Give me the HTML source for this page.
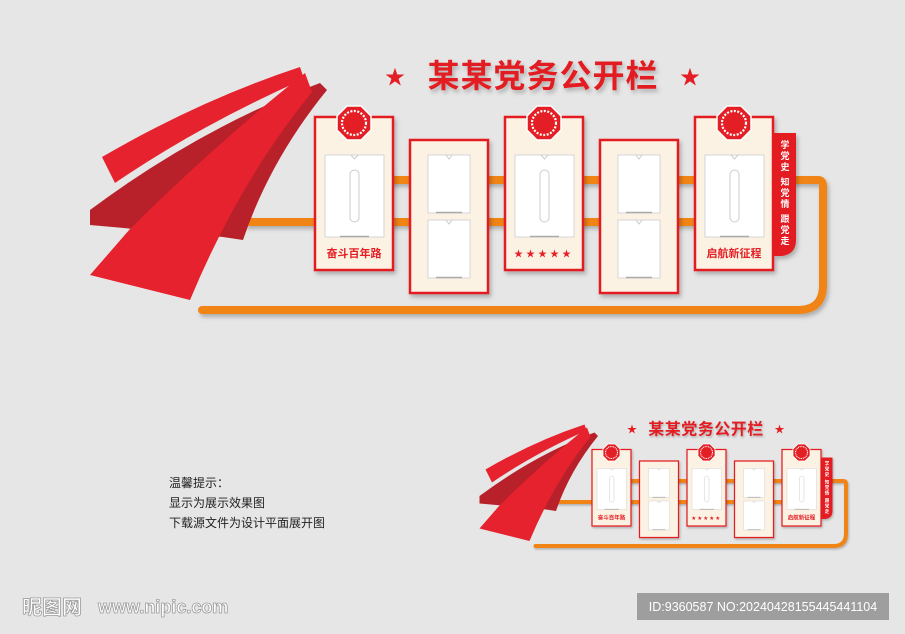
<!DOCTYPE html>
<html><head><meta charset="utf-8"><style>
html,body{margin:0;padding:0;background:#e6e6e6;width:905px;height:634px;overflow:hidden}
svg{display:block}
text{font-family:"Liberation Sans","Noto Sans CJK SC",sans-serif}
</style></head><body>
<svg width="905" height="634" viewBox="0 0 905 634" xmlns="http://www.w3.org/2000/svg">
<defs>
  <filter id="sh" x="-20%" y="-20%" width="140%" height="140%"><feDropShadow dx="2" dy="3" stdDeviation="2" flood-color="#000" flood-opacity="0.25"/></filter>
  <g id="oct">
    <polygon points="-7,-17 7,-17 17,-7 17,7 7,17 -7,17 -17,7 -17,-7" fill="#e31e24" stroke="#fff" stroke-width="1.5"/>
    <circle r="12" fill="none" stroke="#fff" stroke-width="2.2" stroke-dasharray="2 1.5"/>
    <circle r="9.5" fill="#e31e24"/>
  </g>
  <g id="frameTall">
    <rect x="0" y="0" width="59" height="82" fill="#fff" stroke="#d4d4d4" stroke-width="1"/>
    <rect x="25" y="15" width="9" height="52" rx="4.5" fill="#fff" stroke="#ccc" stroke-width="1"/>
    <line x1="15" y1="81.5" x2="44" y2="81.5" stroke="#aaa" stroke-width="1.5"/>
    <path d="M26,0 L29.5,4 L33,0" fill="none" stroke="#ccc"/>
  </g>
  <g id="frameHalf">
    <rect x="0" y="0" width="42" height="58" fill="#fff" stroke="#d4d4d4" stroke-width="1"/>
    <line x1="8" y1="57.5" x2="34" y2="57.5" stroke="#aaa" stroke-width="1.5"/>
    <path d="M18,0 L21,4 L24,0" fill="none" stroke="#ccc"/>
  </g>
  <g id="board">
    <g filter="url(#sh)">
      <path d="M245,222 H700" stroke="#f08519" stroke-width="8" fill="none"/>
      <path d="M320,180 H818 Q823,180 823,186 V285 Q823,310 798,310 H202" stroke="#f08519" stroke-width="8" fill="none" stroke-linecap="round"/>
    </g>
    <!-- ribbons -->
    <path d="M102,157 Q200,100 300,67 L304,79 Q200,125 115,183 Z" fill="#e5222d"/>
    <path d="M90,210 Q200,128 320,83 L327,90 Q270,160 243,240 L223,237 L90,225 Z" fill="#b8202a"/>
    <path d="M90,275 L130,229 Q220,140 305,73 L312,92 Q240,180 190,300 Z" fill="#e5222d"/>
    <!-- title -->
    <text x="543" y="87" text-anchor="middle" font-size="32" font-weight="bold" fill="#e31e24" filter="url(#sh)" letter-spacing="1">某某党务公开栏</text>
    <text x="395" y="84" text-anchor="middle" font-size="20" fill="#e31e24">★</text>
    <text x="690" y="84" text-anchor="middle" font-size="20" fill="#e31e24">★</text>
    <g filter="url(#sh)">
      <rect x="315" y="117" width="78" height="153" fill="#fcf2e3" stroke="#e31e24" stroke-width="2.5"/>
      <rect x="410" y="140" width="78" height="153" fill="#fcf2e3" stroke="#e31e24" stroke-width="2.5"/>
      <rect x="505" y="117" width="78" height="153" fill="#fcf2e3" stroke="#e31e24" stroke-width="2.5"/>
      <rect x="600" y="140" width="78" height="153" fill="#fcf2e3" stroke="#e31e24" stroke-width="2.5"/>
      <path d="M770,133 H796 V240 Q796,254 782,256 L770,256 Z" fill="#e31e24"/>
      <rect x="695" y="117" width="78" height="153" fill="#fcf2e3" stroke="#e31e24" stroke-width="2.5"/>
    </g>
    <use href="#oct" x="354" y="123"/>
    <use href="#oct" x="544" y="123"/>
    <use href="#oct" x="734" y="123"/>
    <use href="#frameTall" x="325" y="155"/>
    <use href="#frameTall" x="515" y="155"/>
    <use href="#frameTall" x="705" y="155"/>
    <use href="#frameHalf" x="428" y="155"/>
    <use href="#frameHalf" x="428" y="220"/>
    <use href="#frameHalf" x="618" y="155"/>
    <use href="#frameHalf" x="618" y="220"/>
    <text x="354" y="257" text-anchor="middle" font-size="11" font-weight="bold" fill="#e31e24">奋斗百年路</text>
    <text x="544" y="257" text-anchor="middle" font-size="9" fill="#e31e24" letter-spacing="3">★★★★★</text>
    <text x="734" y="257" text-anchor="middle" font-size="11" font-weight="bold" fill="#e31e24">启航新征程</text>
    <g font-size="9" font-weight="bold" fill="#fff" text-anchor="middle">
      <text x="785" y="148">学</text><text x="785" y="159">党</text><text x="785" y="170">史</text>
      <text x="785" y="185">知</text><text x="785" y="196">党</text><text x="785" y="207">情</text>
      <text x="785" y="222">跟</text><text x="785" y="233">党</text><text x="785" y="244">走</text>
    </g>
  </g>
</defs>
<rect width="905" height="634" fill="#e6e6e6"/>
<use href="#board"/>
<use href="#board" transform="translate(434.5,391) scale(0.5)"/>
<g font-size="12" fill="#222">
  <text x="169" y="487">温馨提示：</text>
  <text x="169" y="507">显示为展示效果图</text>
  <text x="169" y="527">下载源文件为设计平面展开图</text>
</g>
<text x="22" y="614" font-size="20" font-weight="bold" fill="#fff" stroke="#9a9a9a" stroke-width="0.8">昵图网</text>
<text x="98" y="613" font-size="18" font-weight="bold" fill="#fff" stroke="#9a9a9a" stroke-width="0.8">www.nipic.com</text>
<rect x="637" y="593" width="252" height="27" fill="#9e9e9e"/>
<text x="763" y="611" text-anchor="middle" font-size="12.5" fill="#fff">ID:9360587 NO:20240428155445441104</text>
</svg>
</body></html>
